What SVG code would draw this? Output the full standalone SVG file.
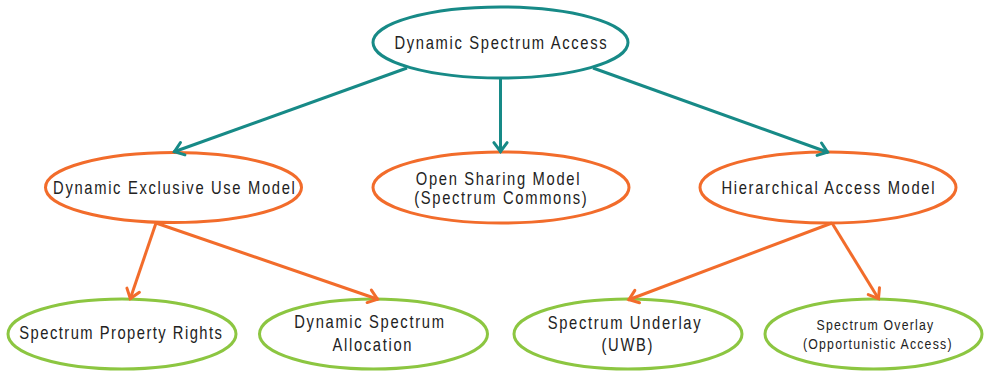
<svg xmlns="http://www.w3.org/2000/svg" width="984" height="372" viewBox="0 0 984 372">
  <style>
    .teal { fill: #ffffff; stroke: #178A87; stroke-width: 3; }
    .orange { fill: #ffffff; stroke: #F26C2B; stroke-width: 3; }
    .green { fill: #ffffff; stroke: #8CC641; stroke-width: 3; }
    .lbl { font-family: "Liberation Sans", Arial, sans-serif; font-size: 18px; letter-spacing: 2.04px; fill: #222222; text-anchor: middle; }
    .sm { font-size: 15px; letter-spacing: 1.49px; }
    .ln-teal { fill: none; stroke: #178A87; stroke-width: 3; marker-end: url(#ahTeal); }
    .ln-orange { fill: none; stroke: #F26C2B; stroke-width: 3; marker-end: url(#ahOrange); }
  </style>
  <defs>
    <marker id="ahTeal" markerUnits="userSpaceOnUse" markerWidth="20" markerHeight="20" refX="0" refY="0" orient="auto" overflow="visible">
      <path d="M-9.8,-6.6 L-1,0 L-9.8,6.6" fill="none" stroke="#178A87" stroke-width="3" stroke-linecap="round"/>
    </marker>
    <marker id="ahOrange" markerUnits="userSpaceOnUse" markerWidth="20" markerHeight="20" refX="0" refY="0" orient="auto" overflow="visible">
      <path d="M-9.8,-6.6 L-1,0 L-9.8,6.6" fill="none" stroke="#F26C2B" stroke-width="3" stroke-linecap="round"/>
    </marker>
  </defs>

  <rect width="984" height="372" fill="#ffffff"/>

  <!-- root -->
  <g id="dsa">
    <ellipse class="teal" cx="500.5" cy="42.5" rx="127.5" ry="35.5"/>
    <text class="lbl" transform="translate(500.5,49) scale(0.82,1)" x="1">Dynamic Spectrum Access</text>
  </g>

  <!-- access models -->
  <g id="exclusive">
    <ellipse class="orange" cx="173.5" cy="187.5" rx="128" ry="35"/>
    <text class="lbl" transform="translate(174,194) scale(0.82,1)" x="1">Dynamic Exclusive Use Model</text>
  </g>
  <g id="open-sharing">
    <ellipse class="orange" cx="501" cy="187.5" rx="128" ry="35.5"/>
    <text class="lbl" transform="translate(500.5,0) scale(0.82,1)">
      <tspan x="1" y="185">Open Sharing Model</tspan>
      <tspan x="1" y="204">(Spectrum Commons)</tspan>
    </text>
  </g>
  <g id="hierarchical">
    <ellipse class="orange" cx="828" cy="187.5" rx="128" ry="35.5"/>
    <text class="lbl" transform="translate(828,194) scale(0.82,1)" x="1">Hierarchical Access Model</text>
  </g>

  <!-- leaf schemes -->
  <g id="property-rights">
    <ellipse class="green" cx="122" cy="334" rx="114" ry="35"/>
    <text class="lbl" style="letter-spacing:1.8px" transform="translate(120.5,339) scale(0.82,1)" x="1">Spectrum Property Rights</text>
  </g>
  <g id="dynamic-allocation">
    <ellipse class="green" cx="373.5" cy="334" rx="114" ry="35"/>
    <text class="lbl" transform="translate(372,0) scale(0.82,1)">
      <tspan x="1" y="328.5">Dynamic Spectrum</tspan>
      <tspan x="1" y="351">Allocation</tspan>
    </text>
  </g>
  <g id="underlay">
    <ellipse class="green" cx="628" cy="334" rx="114" ry="35"/>
    <text class="lbl" transform="translate(627,0) scale(0.82,1)">
      <tspan x="1" y="329">Spectrum Underlay</tspan>
      <tspan x="1" y="351">(UWB)</tspan>
    </text>
  </g>
  <g id="overlay">
    <ellipse class="green" cx="873.5" cy="334" rx="108.5" ry="35"/>
    <text class="lbl sm" transform="translate(877,0) scale(0.82,1)">
      <tspan x="1" y="330">Spectrum Overlay</tspan>
      <tspan x="1" y="349">(Opportunistic Access)</tspan>
    </text>
  </g>

  <!-- connectors -->
  <g id="connectors">
    <path class="ln-teal" d="M407,68 L173.5,152"/>
    <path class="ln-teal" d="M500.5,78 L500.5,152.5"/>
    <path class="ln-teal" d="M593,68 L828.5,152.5"/>
    <path class="ln-orange" d="M156,223 L130,299.5"/>
    <path class="ln-orange" d="M156,223 L378.5,299.5"/>
    <path class="ln-orange" d="M832,223 L628,300"/>
    <path class="ln-orange" d="M832,223 L879,299.5"/>
  </g>
</svg>
